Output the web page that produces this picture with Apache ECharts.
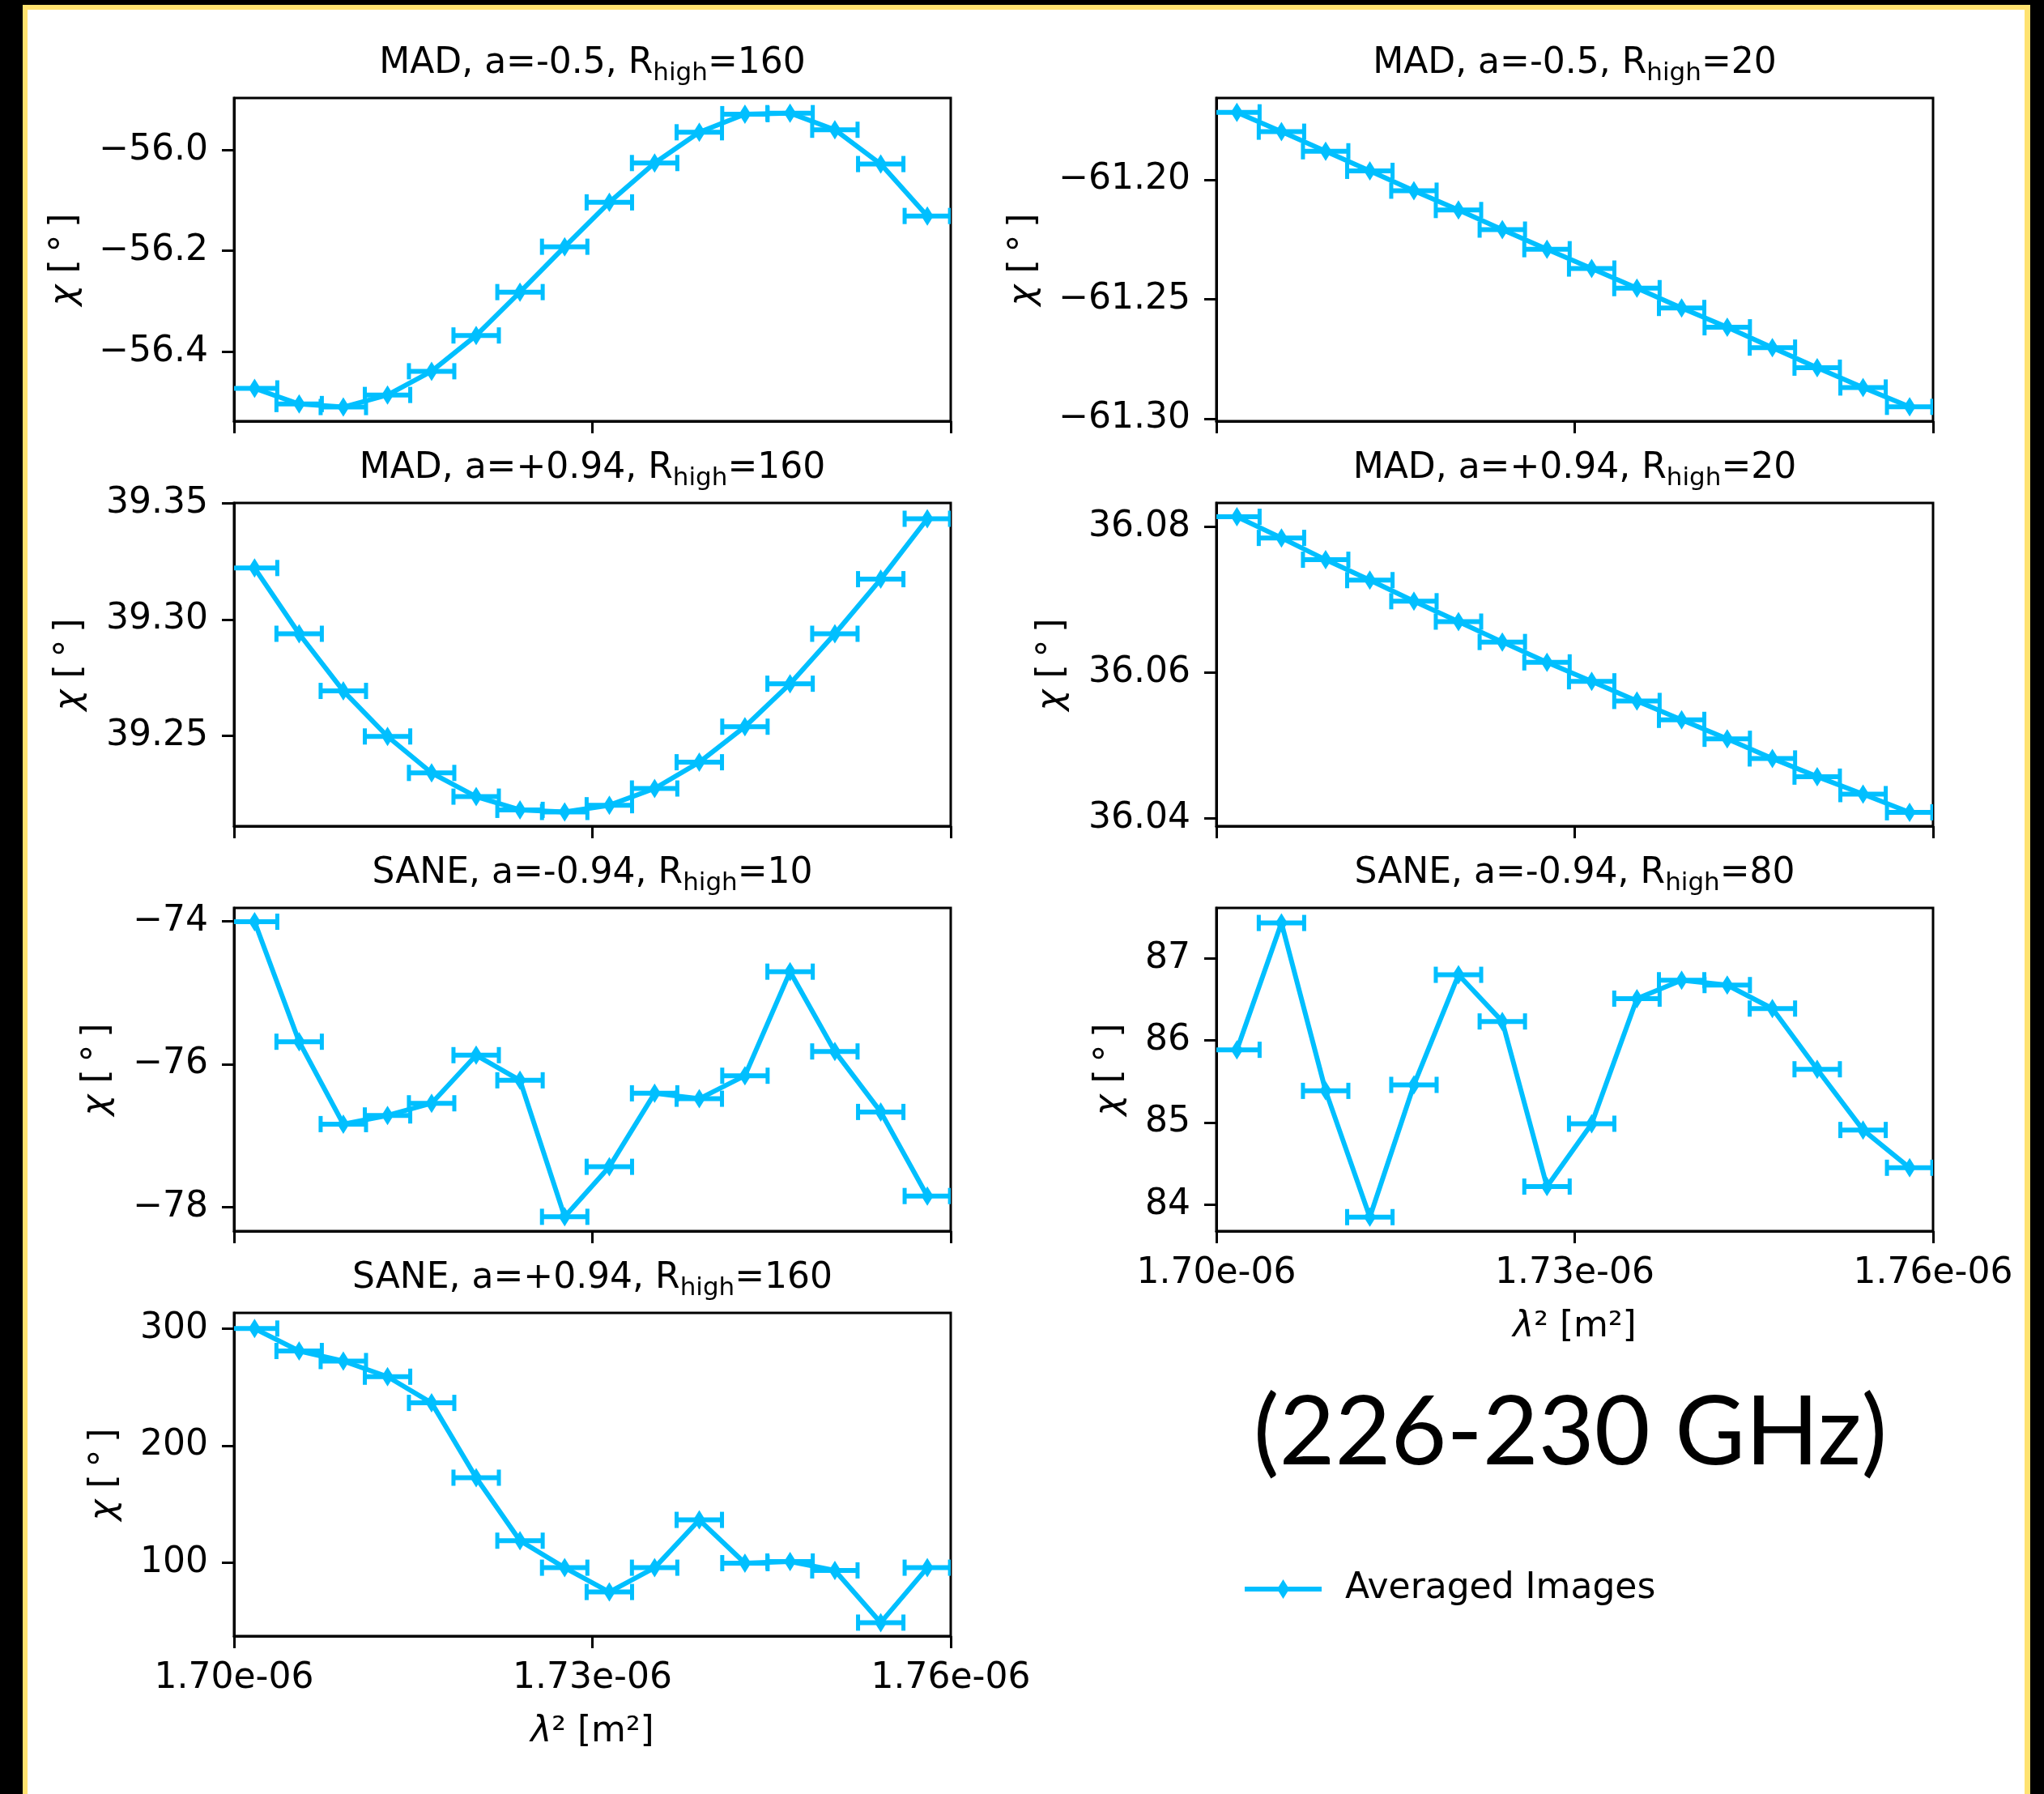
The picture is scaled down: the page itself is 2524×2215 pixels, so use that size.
<!DOCTYPE html>
<html>
<head>
<meta charset="utf-8">
<script src="https://cdn.jsdelivr.net/npm/echarts@6/dist/echarts.min.js"></script>
<style>
html,body{margin:0;padding:0;background:#000;}
#chart{width:2524px;height:2215px;}
</style>
</head>
<body>
<div id="chart"></div>
<script>
// ---------------- DATA ----------------
// lambda^2 channel centres, in units of 1e-6 m^2 (tick labels show the e-06)
const lambda2 = [1.70172, 1.70545, 1.70915, 1.71285, 1.71654, 1.72027, 1.72394, 1.72768,
                 1.73142, 1.73521, 1.73895, 1.74277, 1.74655, 1.75030, 1.75414, 1.75804];
// half-width of the horizontal error bars (same units)
const lambda2Err = [0.0019, 0.0019, 0.0019, 0.0019, 0.0019, 0.0019, 0.0019, 0.0019,
                    0.0019, 0.0019, 0.0019, 0.0019, 0.0019, 0.0019, 0.0019, 0.0019];

// chi [deg] per model
const chiMAD_am05_R160 = [-56.473, -56.504, -56.510, -56.486, -56.439, -56.368, -56.282, -56.192,
                          -56.104, -56.026, -55.965, -55.929, -55.927, -55.960, -56.028, -56.131];
const chiMAD_am05_R20  = [-61.1718, -61.1799, -61.1881, -61.1963, -61.2046, -61.2127, -61.2209, -61.2291,
                          -61.2372, -61.2454, -61.2537, -61.2618, -61.2703, -61.2787, -61.2870, -61.2951];
const chiMAD_ap94_R160 = [39.3222, 39.2939, 39.2693, 39.2497, 39.2340, 39.2238, 39.2181, 39.2172,
                          39.2201, 39.2273, 39.2386, 39.2539, 39.2724, 39.2939, 39.3174, 39.3434];
const chiMAD_ap94_R20  = [36.0814, 36.0785, 36.0755, 36.0727, 36.0698, 36.0670, 36.0642, 36.0614,
                          36.0588, 36.0561, 36.0535, 36.0509, 36.0482, 36.0457, 36.0433, 36.0408];
const chiSANE_am94_R10 = [-74.007, -75.687, -76.840, -76.719, -76.549, -75.875, -76.227, -78.138,
                          -77.438, -76.409, -76.485, -76.163, -74.706, -75.823, -76.670, -77.847];
const chiSANE_am94_R80 = [85.885, 87.429, 85.385, 83.848, 85.458, 86.798, 86.230, 84.220,
                          84.985, 86.508, 86.732, 86.673, 86.387, 85.648, 84.909, 84.449];
const chiSANE_ap94_R160 = [300.1, 280.9, 272.3, 258.9, 236.5, 172.5, 118.6, 95.5,
                           74.7, 95.5, 136.4, 99.4, 100.8, 93.2, 48.5, 95.5];

// tick values
const xTicks = [1.70, 1.73, 1.76];
const yTicks1 = [-56.4, -56.2, -56.0];
const yTicks2 = [-61.30, -61.25, -61.20];
const yTicks3 = [39.25, 39.30, 39.35];
const yTicks4 = [36.04, 36.06, 36.08];
const yTicks5 = [-78, -76, -74];
const yTicks6 = [84, 85, 86, 87];
const yTicks7 = [100, 200, 300];

// panel titles: [before subscript, subscript, after subscript]
const titles = [
  ['MAD, a=-0.5, R', 'high', '=160'],
  ['MAD, a=-0.5, R', 'high', '=20'],
  ['MAD, a=+0.94, R', 'high', '=160'],
  ['MAD, a=+0.94, R', 'high', '=20'],
  ['SANE, a=-0.94, R', 'high', '=10'],
  ['SANE, a=-0.94, R', 'high', '=80'],
  ['SANE, a=+0.94, R', 'high', '=160']
];
const seriesName = 'Averaged Images';
const bandLabel = '(226-230 GHz)';

// ---------------- LAYOUT / STYLE ----------------
const FONT = 'DejaVu Sans';
const FS = 44;
const BLUE = '#00BFFF';
const colLeft = [289, 1502];
const rowTop = [121, 621, 1121, 1621];
const GW = 885, GH = 399;

const panels = [
  {y: chiMAD_am05_R160, ticks: yTicks1, min: -56.538, max: -55.897, dec: 1, col: 0, row: 0, gap: 186, xl: false},
  {y: chiMAD_am05_R20,  ticks: yTicks2, min: -61.3011, max: -61.1658, dec: 2, col: 1, row: 0, gap: 215, xl: false},
  {y: chiMAD_ap94_R160, ticks: yTicks3, min: 39.2111, max: 39.3502, dec: 2, col: 0, row: 1, gap: 180, xl: false},
  {y: chiMAD_ap94_R20,  ticks: yTicks4, min: 36.0389, max: 36.0833, dec: 2, col: 1, row: 1, gap: 180, xl: false},
  {y: chiSANE_am94_R10, ticks: yTicks5, min: -78.338, max: -73.814, dec: 0, col: 0, row: 2, gap: 146, xl: false},
  {y: chiSANE_am94_R80, ticks: yTicks6, min: 83.678, max: 87.612, dec: 0, col: 1, row: 2, gap: 109, xl: true},
  {y: chiSANE_ap94_R160, ticks: yTicks7, min: 37.0, max: 313.5, dec: 0, col: 0, row: 3, gap: 137, xl: true}
];

const nameRich = {
  i: {fontFamily: FONT, fontSize: FS, fontStyle: 'italic', color: '#000'},
  n: {fontFamily: FONT, fontSize: FS, color: '#000'}
};

function errRender(params, api) {
  const x = api.value(0), y = api.value(1), e = api.value(2);
  const a = api.coord([x - e, y]);
  const b = api.coord([x + e, y]);
  const h = 10;
  const capStyle = {stroke: BLUE, lineWidth: 5};
  return {
    type: 'group',
    children: [
      {type: 'line', shape: {x1: a[0], y1: a[1], x2: b[0], y2: b[1]}, style: {stroke: BLUE, lineWidth: 6}},
      {type: 'line', shape: {x1: a[0], y1: a[1] - h, x2: a[0], y2: a[1] + h}, style: capStyle},
      {type: 'line', shape: {x1: b[0], y1: b[1] - h, x2: b[0], y2: b[1] + h}, style: capStyle}
    ]
  };
}

const grid = [], xAxis = [], yAxis = [], series = [], graphic = [];

// frame
graphic.push({type: 'rect', z: -10, shape: {x: 28, y: 6, width: 2479, height: 2300}, style: {fill: '#FFE270'}});
graphic.push({type: 'rect', z: -9, shape: {x: 34, y: 12, width: 2466, height: 2300}, style: {fill: '#FFFFFF'}});

panels.forEach((p, i) => {
  const left = colLeft[p.col], top = rowTop[p.row];
  grid.push({left: left, top: top, width: GW, height: GH, show: true, borderColor: '#000', borderWidth: 3,
             backgroundColor: 'transparent', containLabel: false, outerBoundsMode: 'none'});
  xAxis.push({
    gridIndex: i, type: 'value', min: 1.70, max: 1.76,
    axisLine: {show: true, onZero: false, lineStyle: {color: '#000', width: 3}},
    axisTick: {show: true, length: 15, customValues: xTicks, lineStyle: {color: '#000', width: 3}},
    axisLabel: {show: p.xl, customValues: xTicks, showMinLabel: true, showMaxLabel: true,
                formatter: v => v.toFixed(2) + 'e-06',
                fontFamily: FONT, fontSize: FS, color: '#000', margin: 31},
    splitLine: {show: false},
    name: p.xl ? '{i|λ}{n|² [m²]}' : '',
    nameLocation: 'middle', nameGap: 97,
    nameTextStyle: {rich: nameRich}
  });
  yAxis.push({
    gridIndex: i, type: 'value', min: p.min, max: p.max,
    axisLine: {show: true, onZero: false, lineStyle: {color: '#000', width: 3}},
    axisTick: {show: true, length: 15, customValues: p.ticks, lineStyle: {color: '#000', width: 3}},
    axisLabel: {customValues: p.ticks, showMinLabel: true, showMaxLabel: true,
                formatter: v => v.toFixed(p.dec).replace('-', '\u2212'),
                fontFamily: FONT, fontSize: FS, color: '#000', margin: 32},
    splitLine: {show: false},
    name: '{i|χ}{n| [\u2009°\u2009]}', nameLocation: 'middle', nameRotate: 90, nameGap: p.gap,
    nameTextStyle: {rich: nameRich}
  });
  series.push({
    type: 'custom', xAxisIndex: i, yAxisIndex: i, clip: true, silent: true, z: 2,
    renderItem: errRender,
    data: lambda2.map((x, k) => [x, p.y[k], lambda2Err[k]])
  });
  series.push({
    type: 'line', name: seriesName, xAxisIndex: i, yAxisIndex: i, clip: true, z: 3,
    data: lambda2.map((x, k) => [x, p.y[k]]),
    symbol: 'diamond', symbolSize: [15, 24], showAllSymbol: true,
    lineStyle: {color: BLUE, width: 6}, itemStyle: {color: BLUE},
    emphasis: {disabled: true}
  });
  const t = titles[i];
  graphic.push({
    type: 'text', z: 10, x: left + GW / 2, y: top - 64,
    style: {
      text: '{a|' + t[0] + '}{b|' + t[1] + '}{a|' + t[2] + '}',
      align: 'center', verticalAlign: 'top',
      rich: {
        a: {fontFamily: FONT, fontSize: FS, fill: '#000', verticalAlign: 'bottom', padding: [0, 0, 5, 0]},
        b: {fontFamily: FONT, fontSize: 31, fill: '#000', verticalAlign: 'bottom'}
      }
    }
  });
});

graphic.push({
  type: 'text', z: 10, x: 1939, y: 1770,
  style: {text: bandLabel, fontFamily: 'Lato', fontSize: 119, fill: '#000', align: 'center', verticalAlign: 'middle'}
});

const option = {
  backgroundColor: '#000',
  animation: false,
  textStyle: {fontFamily: FONT},
  legend: {
    left: 1537, top: 1940, padding: 0, itemWidth: 95, itemHeight: 24, selectedMode: false,
    data: [{name: seriesName, icon: 'path://M0,9H95V15H0Z M47.5,0L55,12L47.5,24L40,12Z'}],
    itemStyle: {borderWidth: 0},
    textStyle: {fontFamily: FONT, fontSize: FS, color: '#000', padding: [0, 0, 0, 24]}
  },
  grid, xAxis, yAxis, series, graphic
};

const chart = echarts.init(document.getElementById('chart'), null, {renderer: 'canvas'});
chart.setOption(option);
</script>
</body>
</html>
